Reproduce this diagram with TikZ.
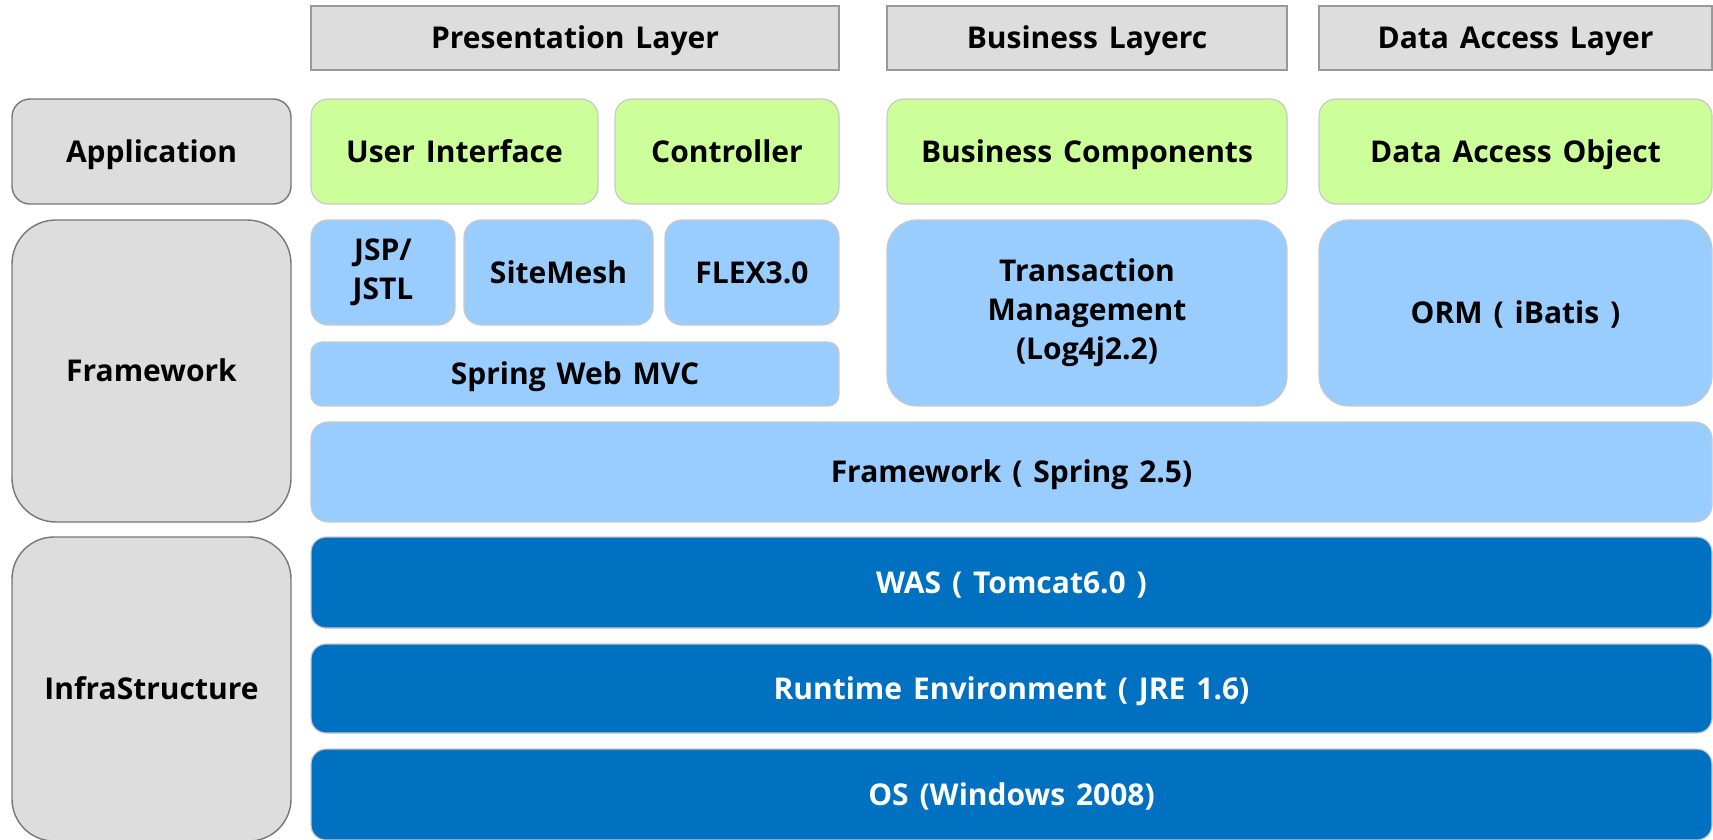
\documentclass[tikz,border=0pt]{standalone}
\usepackage{fontspec}
\usepackage{tikz}
\usepackage{xcolor}
\setmainfont{Open Sans}[WordSpace=1.4]
\definecolor{hdrgray}{HTML}{DDDDDD}
\definecolor{hdrline}{HTML}{999999}
\definecolor{sideline}{HTML}{777777}
\definecolor{appgreen}{HTML}{CCFF99}
\definecolor{fwblue}{HTML}{99CCFF}
\definecolor{infblue}{HTML}{0070C0}
\definecolor{softline}{HTML}{C8C8C8}

\begin{document}
\begin{tikzpicture}[x=1pt,y=-1pt,
  every node/.style={inner sep=0pt,outer sep=0pt,align=center,
    text height=21.5pt,text depth=0pt,
    font=\bfseries\fontsize{30}{39}\selectfont},
  twoline/.style={text height={},text depth={}},
  layerhdr/.style={draw=hdrline,fill=hdrgray,line width=1.6pt},
  sidebox/.style={draw=sideline,fill=hdrgray,line width=1.4pt},
  appbox/.style={draw=softline,fill=appgreen,line width=1.2pt,rounded corners=17pt},
  fwbox/.style={draw=softline,fill=fwblue,line width=1.2pt},
  infbox/.style={draw=softline,fill=infblue,line width=1.2pt,rounded corners=15pt,text=white}]
\useasboundingbox (0,0) rectangle (1713,839);
\clip (0,0) rectangle (1713,839);
\node[layerhdr,minimum width=528pt,minimum height=64pt] (pres) at (575,38) {Presentation Layer};
\node[layerhdr,minimum width=400pt,minimum height=64pt] (bus) at (1087,38) {Business Layerc};
\node[layerhdr,minimum width=393pt,minimum height=64pt] (dal) at (1515.5,38) {Data Access Layer};
\node[sidebox,rounded corners=18pt,minimum width=279pt,minimum height=105pt] (app) at (151.5,151.5) {Application};
\node[sidebox,rounded corners=44pt,minimum width=279pt,minimum height=302pt] (fw) at (151.5,371) {Framework};
\node[sidebox,rounded corners=42pt,minimum width=279pt,minimum height=304pt] (infra) at (151.5,689) {InfraStructure};
\node[appbox,minimum width=287pt,minimum height=105pt] (ui) at (454.5,151.5) {User Interface};
\node[appbox,minimum width=224pt,minimum height=105pt] (ctrl) at (727,151.5) {Controller};
\node[appbox,minimum width=400pt,minimum height=105pt] (bc) at (1087,151.5) {Business Components};
\node[appbox,minimum width=393pt,minimum height=105pt] (dao) at (1515.5,151.5) {Data Access Object};
\node[fwbox,twoline,rounded corners=17pt,minimum width=144pt,minimum height=105pt] (jsp) at (383,272.5) {JSP/\\JSTL};
\node[fwbox,rounded corners=17pt,minimum width=189pt,minimum height=105pt] (mesh) at (558.5,272.5) {SiteMesh};
\node[fwbox,rounded corners=17pt,minimum width=174pt,minimum height=105pt] (flex) at (752,272.5) {FLEX3.0};
\node[fwbox,rounded corners=11pt,minimum width=528pt,minimum height=64pt] (mvc) at (575,374) {Spring Web MVC};
\node[fwbox,twoline,rounded corners=30pt,minimum width=400pt,minimum height=186pt] (tx) at (1087,313) {Transaction\\Management\\(Log4j2.2)};
\node[fwbox,rounded corners=30pt,minimum width=393pt,minimum height=186pt] (orm) at (1515.5,313) {ORM ( iBatis )};
\node[fwbox,rounded corners=17pt,minimum width=1401pt,minimum height=100pt] (spring) at (1011.5,472) {Framework ( Spring 2.5)};
\node[infbox,minimum width=1401pt,minimum height=91pt] (was) at (1011.5,582.5) {WAS ( Tomcat6.0 )};
\node[infbox,minimum width=1401pt,minimum height=89pt] (jre) at (1011.5,688.5) {Runtime Environment ( JRE 1.6)};
\node[infbox,minimum width=1401pt,minimum height=91pt] (os) at (1011.5,794.5) {OS (Windows 2008)};
\end{tikzpicture}
\end{document}
